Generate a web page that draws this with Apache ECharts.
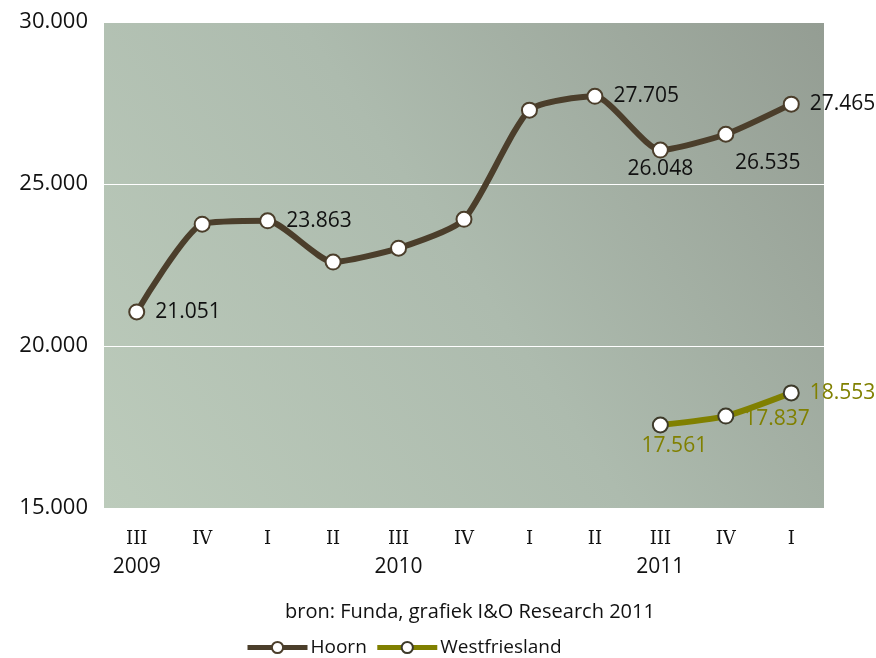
<!DOCTYPE html>
<html>
<head>
<meta charset="utf-8">
<script src="https://cdn.jsdelivr.net/npm/echarts@6/dist/echarts.min.js"></script>
<style>
html, body { margin: 0; padding: 0; background: #fff; }
#chart { width: 876px; height: 658px; }
</style>
</head>
<body>
<div id="chart"></div>
<script>
// kwartalen
const quarters = ['III', 'IV', 'I', 'II', 'III', 'IV', 'I', 'II', 'III', 'IV', 'I']
const years = ['2009', '', '', '', '2010', '', '', '', '2011', '', '']
const hoorn = [21051, 23760, 23863, 22590, 23020, 23910, 27280, 27705, 26048, 26535, 27465]
const westfriesland = [null, null, null, null, null, null, null, null, 17561, 17837, 18553]
const yTicks = [15000, 20000, 25000, 30000]
const source = 'bron: Funda, grafiek I&O Research 2011'

// which points get a value label, and where
const hoornLabels = ['right', null, 'right', null, null, null, null, 'right', 'bottom', 'bottom', 'right']
const westLabels = [null, null, null, null, null, null, null, null, 'bottom', 'right', 'right']

const sansFont = '"Open Sans", "DejaVu Sans", sans-serif'
const serifFont = '"DejaVu Serif", "Liberation Serif", serif'

function nl (v) {
  return String(v).replace(/\B(?=(\d{3})+(?!\d))/g, '.')
}

function labelOffset (series, i) {
  if (series === 'h' && i === 9) return [42, 0]
  if (series === 'h' && i === 8) return [0, -10]
  if (series === 'w' && i === 9) return [0, 3]
  if (series === 'w' && i === 8) return [14, -8]
  return [0, 0]
}

function buildData (values, positions, color, key) {
  return values.map((v, i) => {
    if (v === null) return null
    const pos = positions[i]
    if (!pos) return { value: v }
    return {
      value: v,
      label: {
        show: true,
        position: pos,
        offset: labelOffset(key, i),
        distance: 10,
        color: color,
        fontSize: 21,
        fontFamily: sansFont,
        formatter: p => nl(p.value)
      }
    }
  })
}

const chart = echarts.init(document.getElementById('chart'))

chart.setOption({
  animation: false,
  grid: {
    left: 104,
    right: 52,
    top: 22,
    bottom: 150,
    show: true,
    borderWidth: 0,
    backgroundColor: {
      type: 'linear',
      x: 0, y: 1, x2: 1, y2: 0,
      colorStops: [
        { offset: 0, color: '#bccbbb' },
        { offset: 0.5, color: '#adbbae' },
        { offset: 1, color: '#949d93' }
      ]
    }
  },
  title: {
    text: source,
    left: 280,
    top: 597,
    textStyle: { fontSize: 20, fontWeight: 'normal', color: '#111', fontFamily: sansFont }
  },
  legend: {
    bottom: -4,
    left: 240,
    itemWidth: 60,
    itemHeight: 14,
    itemGap: 8,
    lineStyle: { width: 5 },
    textStyle: { fontSize: 19, color: '#111', fontFamily: sansFont, padding: [0, 0, 0, -2] },
    data: ['Hoorn', 'Westfriesland']
  },
  xAxis: {
    type: 'category',
    boundaryGap: true,
    data: quarters,
    axisLine: { show: false },
    axisTick: { show: false },
    axisLabel: {
      margin: 16,
      interval: 0,
      formatter: (v, i) => '{q|' + v + '}\n{y|' + years[i] + '}',
      rich: {
        q: { fontFamily: serifFont, fontSize: 18, color: '#111', lineHeight: 30 },
        y: { fontFamily: sansFont, fontSize: 21, color: '#111', lineHeight: 26 }
      }
    }
  },
  yAxis: {
    type: 'value',
    min: 15000,
    max: 30000,
    interval: 5000,
    axisLine: { show: false },
    axisTick: { show: false },
    splitLine: { lineStyle: { color: '#ffffff', width: 1 } },
    axisLabel: {
      margin: 16,
      fontSize: 22,
      color: '#111',
      fontFamily: sansFont,
      formatter: v => yTicks.includes(v) ? nl(v) : ''
    }
  },
  series: [
    {
      name: 'Hoorn',
      type: 'line',
      smooth: 0.2,
      symbol: 'circle',
      symbolSize: 15,
      showAllSymbol: true,
      lineStyle: { color: '#4b3e2b', width: 6 },
      itemStyle: { color: '#ffffff', borderColor: '#4b3e2b', borderWidth: 2 },
      data: buildData(hoorn, hoornLabels, '#111', 'h')
    },
    {
      name: 'Westfriesland',
      type: 'line',
      smooth: 0.2,
      symbol: 'circle',
      symbolSize: 15,
      lineStyle: { color: '#808000', width: 6 },
      itemStyle: { color: '#ffffff', borderColor: '#3d3a2a', borderWidth: 2 },
      data: buildData(westfriesland, westLabels, '#808000', 'w')
    }
  ]
})
</script>
</body>
</html>
